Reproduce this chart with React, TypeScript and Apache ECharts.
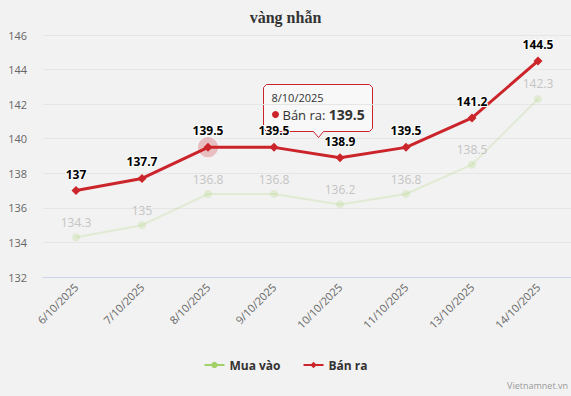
import React, { useEffect, useRef } from "react";
import * as echarts from "echarts";

const categories = ["6/10/2025", "7/10/2025", "8/10/2025", "9/10/2025", "10/10/2025", "11/10/2025", "13/10/2025", "14/10/2025"];
const muaVao = [134.3, 135, 136.8, 136.8, 136.2, 136.8, 138.5, 142.3];
const banRa = [137, 137.7, 139.5, 139.5, 138.9, 139.5, 141.2, 144.5];
const hoverIndex = 2;

const SANS = "Open Sans, Noto Sans, sans-serif";
const RED = "#cb242b";
const GREEN = "#a2d16a";
const GREEN_FADED = "rgba(162,209,106,0.22)";

export default function App() {
  const ref = useRef<HTMLDivElement>(null);
  useEffect(() => {
    if (!ref.current) return;
    const chart = echarts.init(ref.current, undefined, { renderer: "svg" });
    chart.setOption({
      animation: false,
      backgroundColor: "#f2f2f2",
      title: {
        text: "vàng nhẫn",
        left: "center",
        top: 4,
        textStyle: { fontFamily: "Liberation Serif, serif", fontWeight: "bold", fontSize: 16, color: "#333" },
      },
      grid: { left: 43, right: 0, top: 35, bottom: 119, containLabel: false },
      legend: {
        bottom: 20,
        left: "center",
        itemGap: 22,
        itemWidth: 20,
        itemHeight: 8,
        textStyle: { fontFamily: SANS, fontWeight: "bold", fontSize: 12, color: "#333" },
        data: [
          { name: "Mua vào", itemStyle: { color: GREEN }, lineStyle: { color: GREEN } },
          { name: "Bán ra" },
        ],
      },
      xAxis: {
        type: "category",
        data: categories,
        boundaryGap: true,
        axisLine: { lineStyle: { color: "#ccd6eb" } },
        axisTick: { show: false },
        axisLabel: { rotate: 45, color: "#666", fontSize: 11, fontFamily: SANS, margin: 8, interval: 0 },
      },
      yAxis: {
        type: "value",
        min: 132,
        max: 146,
        interval: 2,
        axisLine: { show: false },
        axisTick: { show: false },
        splitLine: { lineStyle: { color: "#e6e6e6" } },
        axisLabel: { color: "#666", fontSize: 11, fontFamily: SANS, margin: 16 },
      },
      series: [
        {
          name: "Mua vào",
          type: "line",
          data: muaVao,
          symbol: "circle",
          symbolSize: 8,
          lineStyle: { color: GREEN_FADED, width: 2 },
          itemStyle: { color: GREEN_FADED },
          label: {
            show: true,
            position: "top",
            distance: 5,
            fontFamily: SANS,
            fontSize: 12,
            color: "#c4c4c4",
            opacity: 1,
          },
          z: 2,
        },
        {
          name: "Bán ra",
          type: "line",
          data: banRa,
          symbol: "diamond",
          symbolSize: 9,
          lineStyle: { color: RED, width: 3 },
          itemStyle: { color: RED },
          label: {
            show: true,
            position: "top",
            distance: 6,
            fontFamily: SANS,
            fontSize: 12,
            fontWeight: "bold",
            color: "#000",
            textBorderColor: "#fff",
            textBorderWidth: 2,
          },
          markPoint: {
            symbol: "circle",
            symbolSize: 20,
            silent: true,
            label: { show: false },
            itemStyle: { color: "rgba(203,36,43,0.25)" },
            data: [{ coord: [categories[hoverIndex], banRa[hoverIndex]] }],
          },
          z: 3,
        },
      ],
      graphic: [
        {
          type: "group",
          left: 263,
          top: 84,
          children: [
            {
              type: "polygon",
              shape: { points: [[0, 3], [3, 0], [106, 0], [109, 3], [109, 44], [106, 47], [60, 47], [55, 53], [50, 47], [3, 47], [0, 44]] },
              style: { fill: "rgba(248,248,248,0.92)", stroke: RED, lineWidth: 1 },
            },
            {
              type: "text",
              x: 8,
              y: 13,
              style: { text: categories[hoverIndex], fontFamily: SANS, fontSize: 11, fill: "#333", verticalAlign: "middle", lineHeight: 13 },
            },
            { type: "circle", shape: { cx: 12, cy: 30, r: 3.5 }, style: { fill: RED } },
            {
              type: "text",
              x: 19,
              y: 30,
              style: {
                text: "{a|Bán ra: }{b|" + banRa[hoverIndex] + "}",
                verticalAlign: "middle",
                rich: {
                  a: { fontFamily: SANS, fontSize: 13, fill: "#333", color: "#333", lineHeight: 16 },
                  b: { fontFamily: SANS, fontSize: 14, fontWeight: "bold", fill: "#333", color: "#333", lineHeight: 16 },
                },
              },
            },
          ],
        },
        {
          type: "text",
          right: 3,
          bottom: 6,
          style: { text: "Vietnamnet.vn", fontFamily: SANS, fontSize: 9, fill: "#999" },
        },
      ],
    });
    return () => chart.dispose();
  }, []);
  return <div ref={ref} style={{ position: "fixed", left: 0, top: 0, width: 571, height: 396 }} />;
}
